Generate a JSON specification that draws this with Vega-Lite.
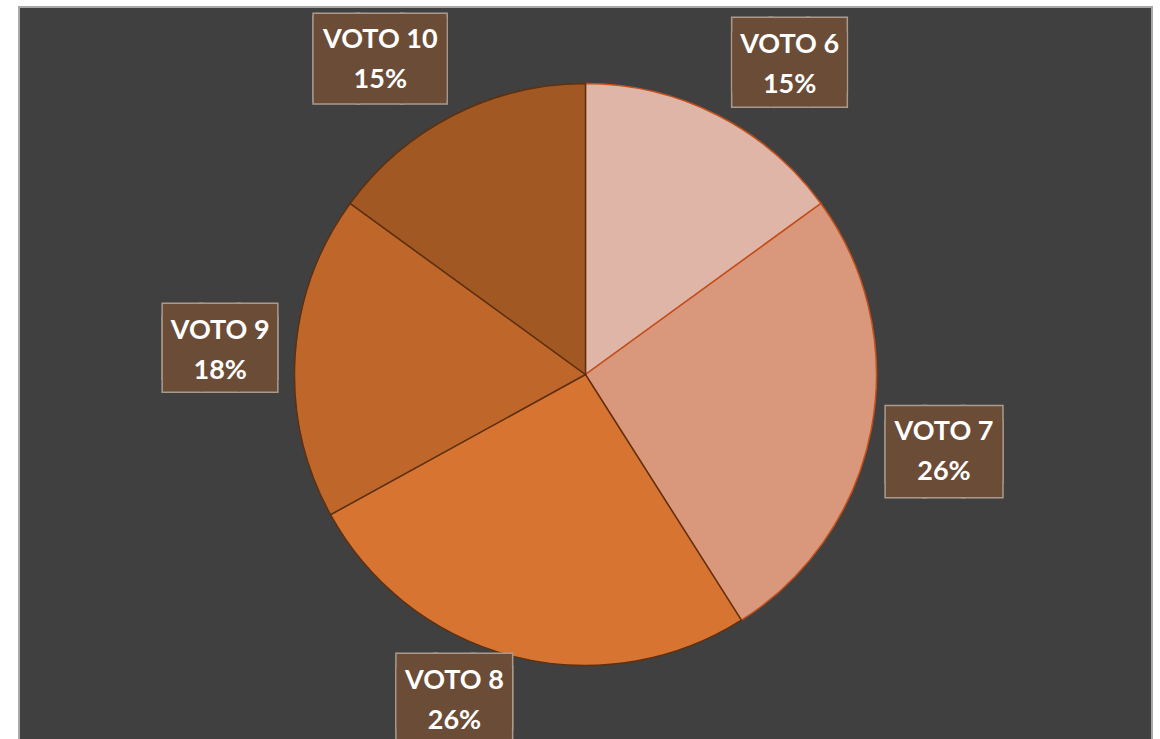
{
  "$schema": "https://vega.github.io/schema/vega-lite/v6.json",
  "width": 1133,
  "height": 735,
  "autosize": {"type": "none"},
  "padding": {"left": 19, "top": 7, "right": 8, "bottom": -3},
  "background": "white",
  "config": {"view": {"stroke": null}},
  "layer": [
    {
      "data": {"values": [{"bg": 1}]},
      "mark": {"type": "rect", "fill": "#404040", "stroke": "#a8a8a8", "strokeWidth": 2},
      "encoding": {}
    },
    {
      "data": {"values": [
        {"cat": "VOTO 6", "value": 15, "order": 1},
        {"cat": "VOTO 7", "value": 26, "order": 2},
        {"cat": "VOTO 8", "value": 26, "order": 3},
        {"cat": "VOTO 9", "value": 18, "order": 4},
        {"cat": "VOTO 10", "value": 15, "order": 5}
      ]},
      "transform": [{"calculate": "[datum.cat, datum.value + '%']", "as": "lines"}],
      "encoding": {
        "theta": {"field": "value", "type": "quantitative", "stack": true},
        "order": {"field": "order", "type": "quantitative"}
      },
      "layer": [
        {
          "mark": {"type": "arc", "outerRadius": 291, "strokeWidth": 1.5},
          "encoding": {
            "color": {"field": "cat", "type": "nominal", "legend": null,
              "scale": {"domain": ["VOTO 6", "VOTO 7", "VOTO 8", "VOTO 9", "VOTO 10"],
                        "range": ["#DFB5A7", "#D9977B", "#D77432", "#BF662A", "#A25822"]}},
            "stroke": {"field": "cat", "type": "nominal", "legend": null,
              "scale": {"domain": ["VOTO 6", "VOTO 7", "VOTO 8", "VOTO 9", "VOTO 10"],
                        "range": ["#C24F1C", "#C24F1C", "#5E300F", "#5E300F", "#5E300F"]}}
          }
        },

        {"mark": {"type": "text", "radius": 366, "dx": 38, "dy": 28.8, "font": "DejaVu Sans Mono", "fontSize": 62.6, "lineHeight": 13.8, "fill": "#A99A8C", "stroke": "#A99A8C", "strokeWidth": 3, "align": "center", "baseline": "alphabetic"},
         "encoding": {"text": {"condition": {"test": "datum.cat === 'VOTO 6'", "value": ["███", "███"]}, "value": ""}}},
        {"mark": {"type": "text", "radius": 366, "dx": 38, "dy": 28.8, "font": "DejaVu Sans Mono", "fontSize": 62.6, "lineHeight": 13.8, "fill": "#6B4C36", "align": "center", "baseline": "alphabetic"},
         "encoding": {"text": {"condition": {"test": "datum.cat === 'VOTO 6'", "value": ["███", "███"]}, "value": ""}}},
        {"mark": {"type": "text", "radius": 366, "dx": 38, "dy": 4.2, "font": "Lato", "fontSize": 27, "fontWeight": "bold", "lineHeight": 40, "fill": "white", "align": "center", "baseline": "alphabetic"},
         "encoding": {"text": {"condition": {"test": "datum.cat === 'VOTO 6'", "field": "lines"}, "value": ""}}},

        {"mark": {"type": "text", "radius": 366, "dx": -1, "dy": 23.1, "font": "DejaVu Sans Mono", "fontSize": 63.7, "lineHeight": 14.5, "fill": "#A99A8C", "stroke": "#A99A8C", "strokeWidth": 3, "align": "center", "baseline": "alphabetic"},
         "encoding": {"text": {"condition": {"test": "datum.cat === 'VOTO 7'", "value": ["███", "███"]}, "value": ""}}},
        {"mark": {"type": "text", "radius": 366, "dx": -1, "dy": 23.1, "font": "DejaVu Sans Mono", "fontSize": 63.7, "lineHeight": 14.5, "fill": "#6B4C36", "align": "center", "baseline": "alphabetic"},
         "encoding": {"text": {"condition": {"test": "datum.cat === 'VOTO 7'", "value": ["███", "███"]}, "value": ""}}},
        {"mark": {"type": "text", "radius": 366, "dx": -1, "dy": -3.5, "font": "Lato", "fontSize": 27, "fontWeight": "bold", "lineHeight": 40, "fill": "white", "align": "center", "baseline": "alphabetic"},
         "encoding": {"text": {"condition": {"test": "datum.cat === 'VOTO 7'", "field": "lines"}, "value": ""}}},

        {"mark": {"type": "text", "radius": 366, "dx": -40, "dy": -16.4, "font": "DejaVu Sans Mono", "fontSize": 63.1, "lineHeight": 13.2, "fill": "#A99A8C", "stroke": "#A99A8C", "strokeWidth": 3, "align": "center", "baseline": "alphabetic"},
         "encoding": {"text": {"condition": {"test": "datum.cat === 'VOTO 8'", "value": ["███", "███"]}, "value": ""}}},
        {"mark": {"type": "text", "radius": 366, "dx": -40, "dy": -16.4, "font": "DejaVu Sans Mono", "fontSize": 63.1, "lineHeight": 13.2, "fill": "#6B4C36", "align": "center", "baseline": "alphabetic"},
         "encoding": {"text": {"condition": {"test": "datum.cat === 'VOTO 8'", "value": ["███", "███"]}, "value": ""}}},
        {"mark": {"type": "text", "radius": 366, "dx": -40, "dy": -40.5, "font": "Lato", "fontSize": 27, "fontWeight": "bold", "lineHeight": 40, "fill": "white", "align": "center", "baseline": "alphabetic"},
         "encoding": {"text": {"condition": {"test": "datum.cat === 'VOTO 8'", "field": "lines"}, "value": ""}}},

        {"mark": {"type": "text", "radius": 366, "dx": 0, "dy": 11.7, "font": "DejaVu Sans Mono", "fontSize": 62.6, "lineHeight": 12.8, "fill": "#A99A8C", "stroke": "#A99A8C", "strokeWidth": 3, "align": "center", "baseline": "alphabetic"},
         "encoding": {"text": {"condition": {"test": "datum.cat === 'VOTO 9'", "value": ["███", "███"]}, "value": ""}}},
        {"mark": {"type": "text", "radius": 366, "dx": 0, "dy": 11.7, "font": "DejaVu Sans Mono", "fontSize": 62.6, "lineHeight": 12.8, "fill": "#6B4C36", "align": "center", "baseline": "alphabetic"},
         "encoding": {"text": {"condition": {"test": "datum.cat === 'VOTO 9'", "value": ["███", "███"]}, "value": ""}}},
        {"mark": {"type": "text", "radius": 366, "dx": 0, "dy": -13, "font": "Lato", "fontSize": 27, "fontWeight": "bold", "lineHeight": 40, "fill": "white", "align": "center", "baseline": "alphabetic"},
         "encoding": {"text": {"condition": {"test": "datum.cat === 'VOTO 9'", "field": "lines"}, "value": ""}}},

        {"mark": {"type": "text", "radius": 366, "dx": -39, "dy": 33.8, "font": "DejaVu Sans Mono", "fontSize": 72.5, "lineHeight": 2.5, "fill": "#A99A8C", "stroke": "#A99A8C", "strokeWidth": 3, "align": "center", "baseline": "alphabetic"},
         "encoding": {"text": {"condition": {"test": "datum.cat === 'VOTO 10'", "value": ["███", "███"]}, "value": ""}}},
        {"mark": {"type": "text", "radius": 366, "dx": -39, "dy": 33.8, "font": "DejaVu Sans Mono", "fontSize": 72.5, "lineHeight": 2.5, "fill": "#6B4C36", "align": "center", "baseline": "alphabetic"},
         "encoding": {"text": {"condition": {"test": "datum.cat === 'VOTO 10'", "value": ["███", "███"]}, "value": ""}}},
        {"mark": {"type": "text", "radius": 366, "dx": -39, "dy": -0.5, "font": "Lato", "fontSize": 27, "fontWeight": "bold", "lineHeight": 40, "fill": "white", "align": "center", "baseline": "alphabetic"},
         "encoding": {"text": {"condition": {"test": "datum.cat === 'VOTO 10'", "field": "lines"}, "value": ""}}}
      ]
    }
  ]
}
